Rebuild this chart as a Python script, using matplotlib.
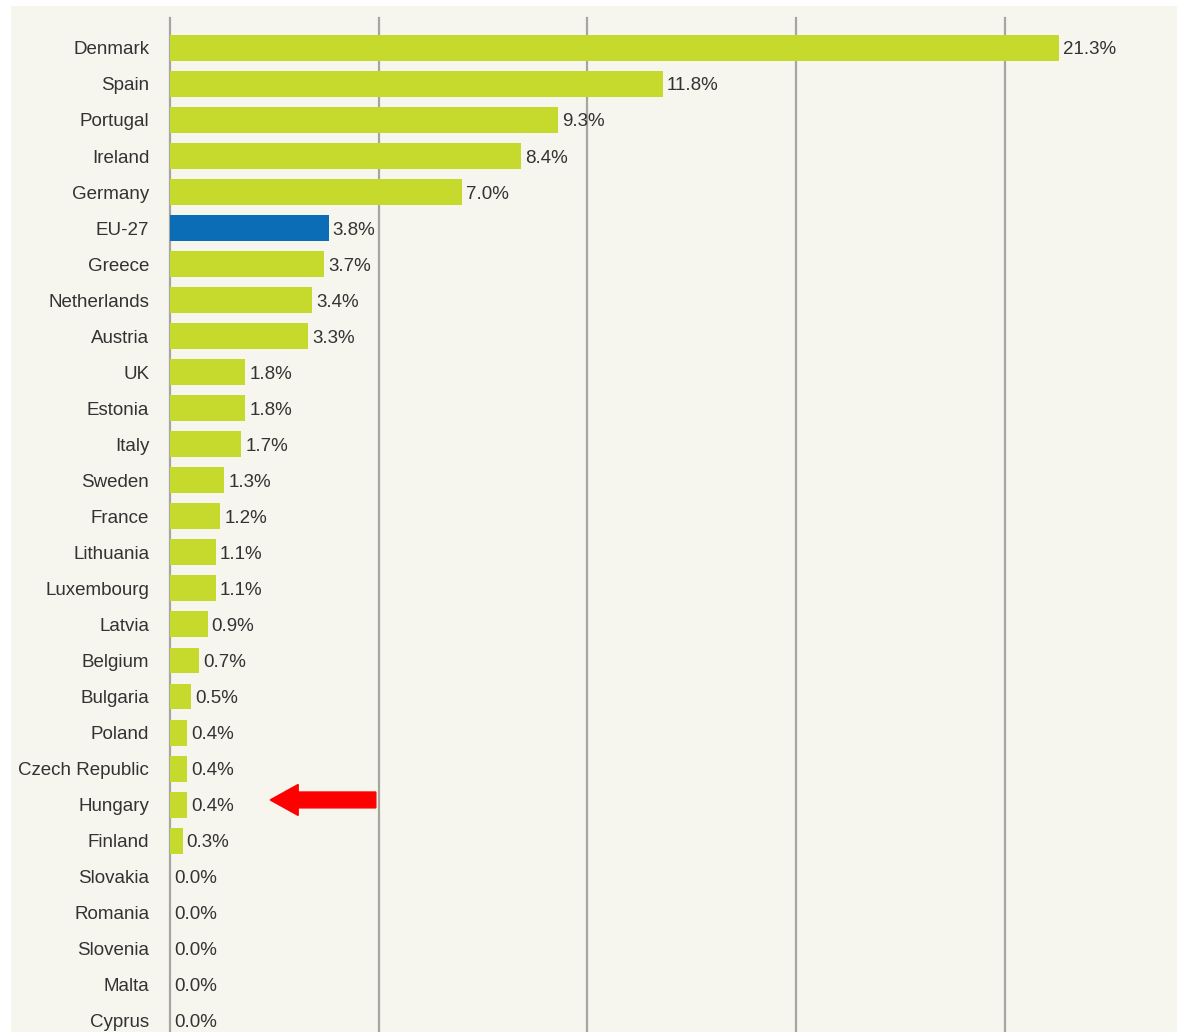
import matplotlib
matplotlib.use("Agg")
import matplotlib.pyplot as plt
from matplotlib.patches import FancyArrow

countries = ["Denmark", "Spain", "Portugal", "Ireland", "Germany", "EU-27", "Greece",
             "Netherlands", "Austria", "UK", "Estonia", "Italy", "Sweden", "France",
             "Lithuania", "Luxembourg", "Latvia", "Belgium", "Bulgaria", "Poland",
             "Czech Republic", "Hungary", "Finland", "Slovakia", "Romania", "Slovenia",
             "Malta", "Cyprus"]
values = [21.3, 11.8, 9.3, 8.4, 7.0, 3.8, 3.7, 3.4, 3.3, 1.8, 1.8, 1.7, 1.3, 1.2,
          1.1, 1.1, 0.9, 0.7, 0.5, 0.4, 0.4, 0.4, 0.3, 0.0, 0.0, 0.0, 0.0, 0.0]
highlight = "EU-27"
arrow_target = "Hungary"
grid_ticks = [0, 5, 10, 15, 20]

W, H, DPI = 1177, 1032, 100
fig = plt.figure(figsize=(W / DPI, H / DPI), dpi=DPI, facecolor="white")
bg = "#f6f5ee"
bgax = fig.add_axes([11 / W, 0, 1 - 11 / W, (H - 6) / H], zorder=-5)
bgax.set_facecolor(bg)
bgax.set_xticks([]); bgax.set_yticks([])
for s in bgax.spines.values():
    s.set_visible(False)

ax = fig.add_axes([170 / W, 0, 1 - 170 / W, (H - 18) / H], zorder=1)
ax.set_facecolor("none")
fam = ["Liberation Sans Narrow", "Liberation Sans", "DejaVu Sans"]
txt_color = "#333333"

ypos = list(range(len(countries)))
colors = ["#0a6db5" if c == highlight else "#c6d92d" for c in countries]
ax.barh(ypos, values, height=0.72, color=colors, zorder=2)

for x in grid_ticks:
    ax.axvline(x, color="#a5a5a1", lw=1.6, zorder=1, clip_on=False)

for y, v in zip(ypos, values):
    ax.text(v + 0.1, y, f"{v:.1f}%", va="center_baseline", ha="left", fontsize=13.5,
            color=txt_color, family=fam, zorder=3)

ax.set_xlim(0, 24.12)
ax.set_ylim(len(countries) - 0.69, -0.83)
ax.set_yticks(ypos)
ax.set_yticklabels(countries, fontsize=13.5, color=txt_color, family=fam)
ax.tick_params(axis="y", length=0, pad=15)
ax.set_xticks([])
for s in ax.spines.values():
    s.set_visible(False)

hi = countries.index(arrow_target)
arr = FancyArrow(4.93, hi - 0.13, -2.53, 0, width=0.44, head_width=0.86,
                 head_length=0.67, length_includes_head=True,
                 color="#ff0000", zorder=4)
ax.add_patch(arr)

fig.savefig("out.png", dpi=DPI, facecolor="white")
